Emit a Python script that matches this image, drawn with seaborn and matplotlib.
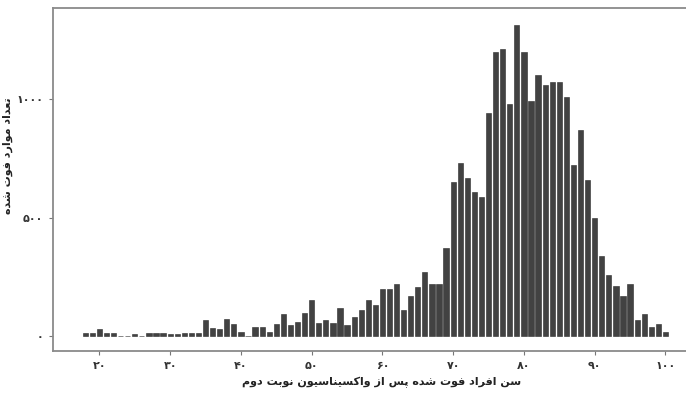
import matplotlib
matplotlib.use("Agg")
import matplotlib.pyplot as plt
import seaborn as sns
import pandas as pd

# ---- data ----
ages = list(range(18, 101))
counts = [12, 15, 32, 15, 12, 0, 0, 8, 0, 15,
          15, 13, 10, 10, 12, 12, 12, 68, 35, 32,
          71, 50, 20, 0, 39, 39, 20, 50, 92, 47,
          61, 100, 151, 57, 68, 57, 120, 47, 81, 109,
          151, 130, 200, 200, 220, 109, 169, 208, 271, 220,
          220, 371, 650, 731, 668, 608, 587, 939, 1198, 1211,
          978, 1310, 1198, 992, 1099, 1059, 1071, 1071, 1008, 720,
          870, 657, 499, 339, 259, 211, 169, 220, 68, 92,
          39, 50, 20]
x_ticks = [20, 30, 40, 50, 60, 70, 80, 90, 100]
x_tick_labels = ["۲۰", "۳۰", "۴۰", "۵۰", "۶۰", "۷۰", "۸۰", "۹۰", "۱۰۰"]
y_ticks = [0, 500, 1000]
y_tick_labels = ["۰", "۵۰۰", "۱۰۰۰"]
x_title = "سن افراد فوت شده پس از واکسیناسیون نوبت دوم"
y_title = "تعداد موارد فوت شده"

# ---- minimal Arabic-script shaping (presentation forms, visual order) ----
FORMS = {
    'ا': ('\uFE8D', '\uFE8E', None, None),
    'ب': ('\uFE8F', '\uFE90', '\uFE91', '\uFE92'),
    'پ': ('\uFB56', '\uFB57', '\uFB58', '\uFB59'),
    'ت': ('\uFE95', '\uFE96', '\uFE97', '\uFE98'),
    'د': ('\uFEA9', '\uFEAA', None, None),
    'ر': ('\uFEAD', '\uFEAE', None, None),
    'ز': ('\uFEAF', '\uFEB0', None, None),
    'س': ('\uFEB1', '\uFEB2', '\uFEB3', '\uFEB4'),
    'ش': ('\uFEB5', '\uFEB6', '\uFEB7', '\uFEB8'),
    'ع': ('\uFEC9', '\uFECA', '\uFECB', '\uFECC'),
    'ف': ('\uFED1', '\uFED2', '\uFED3', '\uFED4'),
    'ک': ('\uFB8E', '\uFB8F', '\uFB90', '\uFB91'),
    'م': ('\uFEE1', '\uFEE2', '\uFEE3', '\uFEE4'),
    'ن': ('\uFEE5', '\uFEE6', '\uFEE7', '\uFEE8'),
    'ه': ('\uFEE9', '\uFEEA', '\uFEEB', '\uFEEC'),
    'و': ('\uFEED', '\uFEEE', None, None),
    'ی': ('\uFBFC', '\uFBFD', '\uFBFE', '\uFBFF'),
}


def shape(text):
    out = []
    for i, c in enumerate(text):
        if c not in FORMS:
            out.append(c)
            continue
        prev = text[i - 1] if i > 0 else None
        nxt = text[i + 1] if i + 1 < len(text) else None
        cp = prev in FORMS and FORMS[prev][2] is not None if prev else False
        cn = (nxt in FORMS) and FORMS[c][2] is not None if nxt else False
        iso, fin, ini, med = FORMS[c]
        if cp and cn:
            out.append(med)
        elif cp:
            out.append(fin)
        elif cn:
            out.append(ini)
        else:
            out.append(iso)
    return ''.join(reversed(out))


sns.set_theme(style="white")
plt.rcParams['font.family'] = ['DejaVu Sans']

df = pd.DataFrame({"age": ages, "count": counts})

fig = plt.figure(figsize=(6.86, 3.94), dpi=100)
ax = fig.add_axes([52.7 / 686, 43 / 394, (698 - 52.7) / 686, 343 / 394])

sns.histplot(data=df, x="age", weights="count", discrete=True, shrink=0.74,
             color="#424242", edgecolor="#2b2b2b", linewidth=0.4, alpha=1,
             ax=ax)

ax.set_xlim(13.4, 104.6)
ax.set_ylim(-62, 1382)
ax.set_xticks(x_ticks)
ax.set_xticklabels(x_tick_labels, fontsize=8, fontweight="bold", color="#333333")
ax.set_yticks(y_ticks)
ax.set_yticklabels(y_tick_labels, fontsize=8, fontweight="bold", color="#333333")
ax.tick_params(axis="both", length=3, width=0.8, color="#777777", pad=4,
               bottom=True, left=True)
ax.set_xlabel(shape(x_title), fontsize=8, fontweight="bold", color="#222222")
ax.xaxis.set_label_coords((382 - 52.7) / 645.3, -26 / 343)
ax.set_ylabel(shape(y_title), fontsize=8, fontweight="bold", color="#222222")
ax.yaxis.set_label_coords((13 - 52.7) / 645.3, 0.57)
for s in ax.spines.values():
    s.set_visible(True)
    s.set_color("#8a8a8a")
    s.set_linewidth(1.3)
ax.grid(False)

fig.savefig("out.png", dpi=100)
